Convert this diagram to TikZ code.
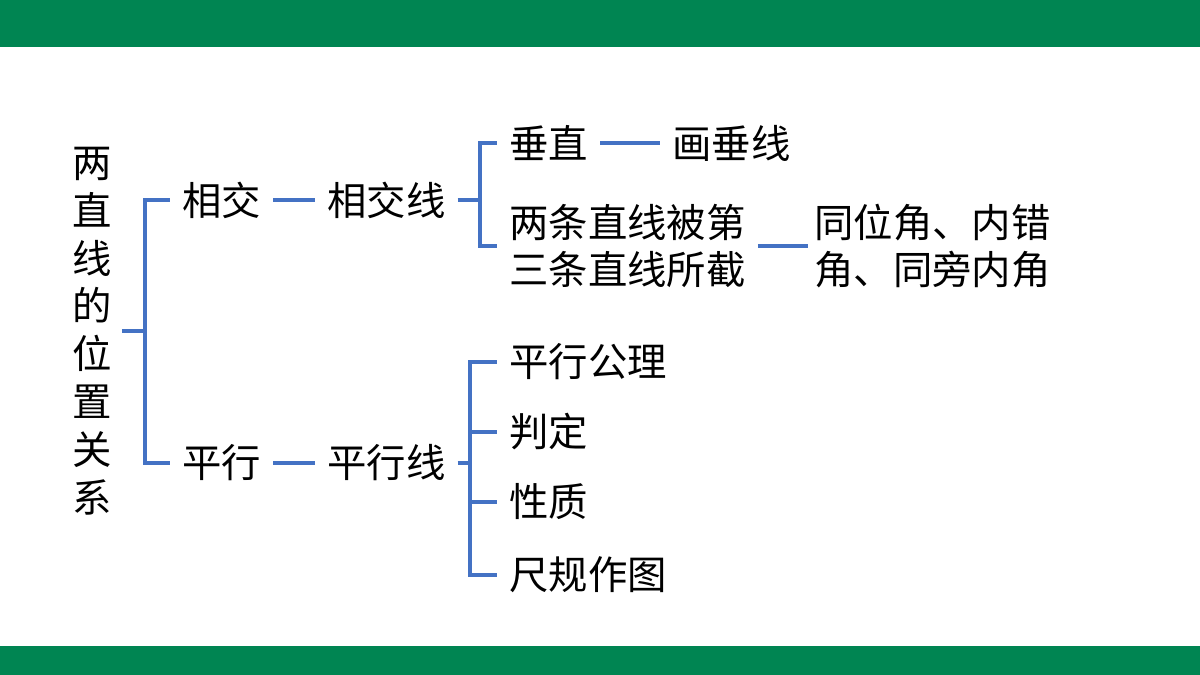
\documentclass[tikz,border=0pt]{standalone}
\usepackage{fontspec}
\setmainfont{Noto Sans CJK SC}
\definecolor{bargreen}{RGB}{0,133,82}
\definecolor{linkblue}{RGB}{68,114,196}
\tikzset{
  link/.style={linkblue, line width=2.2pt},
  item/.style={anchor=west, inner xsep=0.3cm, inner ysep=0pt, align=left,
    font=\fontsize{28}{34}\selectfont}
}
\begin{document}
\begin{tikzpicture}[x=0.025cm, y=-0.025cm]
\useasboundingbox (0,0) rectangle (1200,675);
\fill[bargreen] (0,0) rectangle (1200,47);
\fill[bargreen] (0,646) rectangle (1200,675);
\node[item, anchor=center, align=center, inner xsep=0.25cm] (root) at (92,331)
  {两\\直\\线\\的\\位\\置\\关\\系};
\node[item] (xj) at (170,200) {相交};
\node[item] (xjx) at (315,200) {相交线};
\node[item] (cz) at (497,143) {垂直};
\node[item] (hcx) at (660,143) {画垂线};
\node[item] (lt) at (497,246) {两条直线被第\\三条直线所截};
\node[item, inner xsep=0.15cm] (jiao) at (808,246) {同位角、内错\\角、同旁内角};
\node[item] (px) at (170,463) {平行};
\node[item] (pxx) at (315,463) {平行线};
\foreach \n/\t/\y in {gl/平行公理/362, pd/判定/432, xz/性质/502, cg/尺规作图/575}
  \node[item] (\n) at (497,\y) {\t};
% brackets
\coordinate (s1) at (145,331);
\coordinate (s2) at (480,200);
\coordinate (s3) at (470,463);
\draw[link] (root.east) -- (s1);
\draw[link] (s1) |- (xj.west);
\draw[link] (s1) |- (px.west);
\draw[link] (xjx.east) -- (s2);
\draw[link] (s2) |- (cz.west);
\draw[link] (s2) |- (lt.west);
\draw[link] (pxx.east) -- (s3);
\foreach \n in {gl,pd,xz,cg}
  \draw[link] (s3) |- (\n.west);
% dashes
\draw[link] (xj.east) -- (xjx.west);
\draw[link] (px.east) -- (pxx.west);
\draw[link] (cz.east) -- (hcx.west);
\draw[link] (lt.east) -- (jiao.west);
\end{tikzpicture}
\end{document}
